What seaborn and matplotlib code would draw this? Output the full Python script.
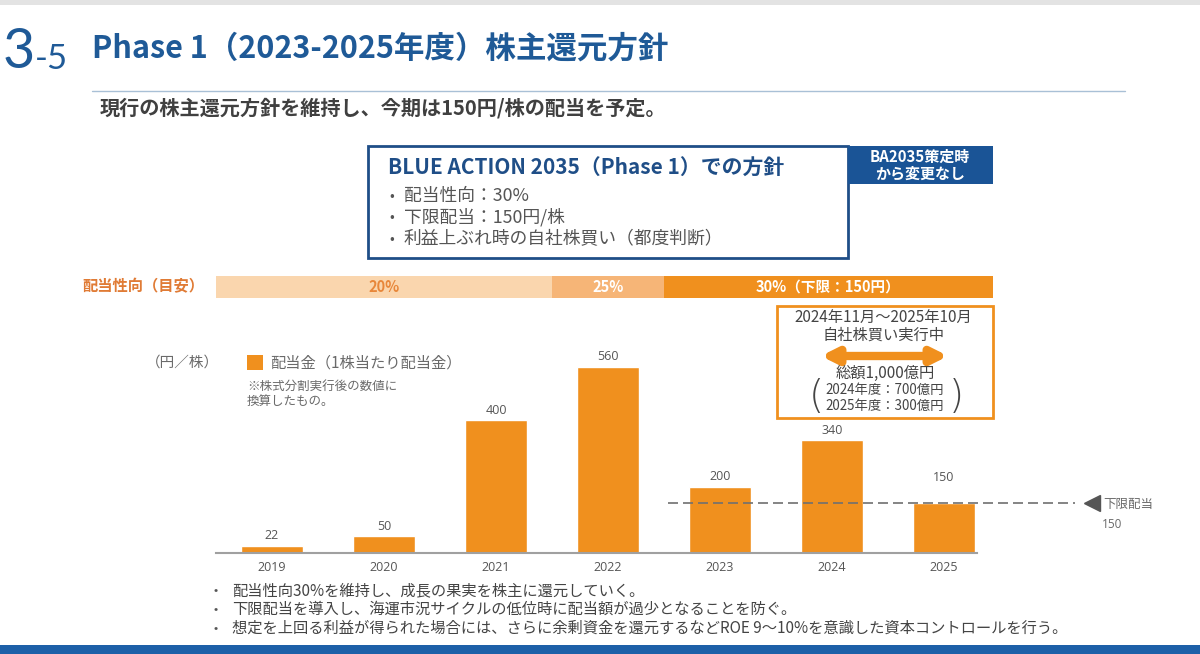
#!/usr/bin/env python3

import matplotlib
matplotlib.use("Agg")
import matplotlib.pyplot as plt
from matplotlib.patches import Rectangle, FancyArrowPatch
import seaborn as sns

# *** data ***
years = ["2019", "2020", "2021", "2022", "2023", "2024", "2025"]
dividends = [22, 50, 400, 560, 200, 340, 150]
floor_dividend = 150

payout_labels = ["20%", "25%", "30%（下限：150円）"]
payout_first = [0, 3, 4]   # first year index of each payout-ratio period
payout_last = [2, 3, 6]    # last year index of each period

policy_items = ["配当性向：30%", "下限配当：150円/株", "利益上ぶれ時の自社株買い（都度判断）"]
notes = [
    "配当性向30%を維持し、成長の果実を株主に還元していく。",
    "下限配当を導入し、海運市況サイクルの低位時に配当額が過少となることを防ぐ。",
    "想定を上回る利益が得られた場合には、さらに余剰資金を還元するなどROE 9～10%を意識した資本コントロールを行う。",
]

W, H = 1200, 654
ORANGE = "#f0901e"
BLUE = "#1f5a97"
GRAY = "#555555"
NUM_FONT = ["Open Sans", "DejaVu Sans"]

sns.set_theme(style="white")
plt.rcParams["font.family"] = ["Noto Sans CJK JP", "DejaVu Sans"]

fig = plt.figure(figsize=(W / 100, H / 100), dpi=100)


def T(x, y, s, **kw):
    '''text placed in pixel coordinates of the slide'''
    kw.setdefault("va", "center")
    return fig.text(x / W, 1 - y / H, s, **kw)


def box(x0, y0, x1, y1, **kw):
    r = Rectangle((x0 / W, 1 - y1 / H), (x1 - x0) / W, (y1 - y0) / H,
                  transform=fig.transFigure, **kw)
    fig.add_artist(r)


# frame bands
box(0, 0, W, 5, color="#e3e3e3", lw=0)
box(0, 645, W, H, color="#1d60a8", lw=0)

# title
T(3, 53, "3", fontsize=40, color=BLUE, family=["Lato", "DejaVu Sans"])
T(35, 59, "-5", fontsize=25, color=BLUE, family=["Lato", "DejaVu Sans"])
T(92, 49, "Phase 1（2023-2025年度）株主還元方針", fontsize=22,
  fontweight="bold", color=BLUE)
fig.add_artist(plt.Line2D([92 / W, 1125 / W], [1 - 91 / H] * 2,
                          transform=fig.transFigure, color="#a9c0d6", lw=1))
T(100, 108, "現行の株主還元方針を維持し、今期は150円/株の配当を予定。",
  fontsize=14.5, fontweight="bold", color="#404040")

# policy box
box(368, 146, 848, 258, fill=False, ec="#1f4e87", lw=2)
box(848, 146, 993, 184, color="#1a5496", lw=0)
T(920, 165, "BA2035策定時\nから変更なし", fontsize=10.8, fontweight="bold",
  color="white", ha="center", linespacing=1.1)
T(388, 168, "BLUE ACTION 2035（Phase 1）での方針", fontsize=15,
  fontweight="bold", color="#1f4e87")
for i, item in enumerate(policy_items):
    T(389, 196 + i * 21.5, "•", fontsize=10, color=GRAY)
    T(404, 196 + i * 21.5, item, fontsize=12.8, color=GRAY)

# payout ratio strip
T(82, 286, "配当性向（目安）", fontsize=11, fontweight="bold", color="#e07b35")
xl = (-0.5, (993 - 272) / 112)
ax2 = fig.add_axes([216 / W, 1 - 298 / H, 777 / W, 22 / H])
strip_colors = ["#fad6ae", "#f6b577", ORANGE]
text_colors = ["#e8873a", "white", "white"]
for lab, a, b, c, tc in zip(payout_labels, payout_first, payout_last,
                            strip_colors, text_colors):
    left, right = a - 0.5, min(b + 0.5, xl[1])
    ax2.barh(0, right - left, left=left, height=1, color=c, lw=0)
    ax2.text((left + right) / 2, 0, lab, ha="center", va="center",
             fontsize=10.5, fontweight="bold", color=tc)
ax2.set_xlim(xl)
ax2.set_ylim(-0.5, 0.5)
ax2.axis("off")

# dividend bars
ax = fig.add_axes([216 / W, 1 - 553 / H, 777 / W, 200 / H])
sns.barplot(x=years, y=dividends, color=ORANGE, saturation=1, width=0.55,
            ax=ax, zorder=2)
ax.set_xlim(xl)
ax.set_ylim(0, 200 / (186 / 560))
for i, v in enumerate(dividends):
    pad = 10 if years[i] != "2025" else 26
    ax.annotate(str(v), (i, v), xytext=(0, pad), textcoords="offset pixels",
                ha="center", va="center", fontsize=9, color=GRAY,
                family=NUM_FONT)
sns.despine(ax=ax, left=True, top=True, right=True)
ax.spines["bottom"].set_bounds(xl[0], (977 - 272) / 112)
ax.spines["bottom"].set_color("#a0a0a0")
ax.spines["bottom"].set_linewidth(1.5)
ax.set_yticks([])
ax.set_xlabel("")
ax.set_ylabel("")
ax.tick_params(axis="x", length=0, pad=6, labelsize=9, labelcolor=GRAY)
for t in ax.get_xticklabels():
    t.set_fontfamily(NUM_FONT)

# floor dividend line
ax.plot([3.54, 7.17], [floor_dividend] * 2, ls=(0, (6, 3)), color="#707070",
        lw=1.2, clip_on=False, zorder=3)
ax.plot([7.32], [floor_dividend], marker="<", ms=11, color="#555555",
        clip_on=False)
T(1103, 504, "下限配当", fontsize=9, color="#6a6a6a")
T(1102, 524, "150", fontsize=8.5, color="#6a6a6a", family=NUM_FONT)

# legend and units
T(146, 363, "（円／株）", fontsize=10.5, color="#6a6a6a")
box(247, 355, 263, 370, color=ORANGE, lw=0)
T(270, 363, "配当金（1株当たり配当金）", fontsize=11, color="#6a6a6a")
T(247, 394, "※株式分割実行後の数値に\n換算したもの。", fontsize=9,
  color="#6a6a6a", linespacing=1.25)

# buyback box
box(777, 306, 993, 418, fill=False, ec=ORANGE, lw=2)
T(883, 317, "2024年11月～2025年10月", fontsize=11, color="#444444", ha="center")
T(884, 335, "自社株買い実行中", fontsize=11, color="#444444", ha="center")
fig.add_artist(FancyArrowPatch((818 / W, 1 - 356 / H), (951 / W, 1 - 356 / H),
                               transform=fig.transFigure, arrowstyle="<|-|>",
                               mutation_scale=22, lw=6, color=ORANGE))
T(885, 373, "総額1,000億円", fontsize=11, color="#444444", ha="center")
T(885, 390, "2024年度：700億円", fontsize=9.6, color="#444444", ha="center")
T(885, 406, "2025年度：300億円", fontsize=9.6, color="#444444", ha="center")
T(816, 397, "(", fontsize=28, color="#444444", ha="center",
  family=["DejaVu Sans"], fontweight="light")
T(956, 397, ")", fontsize=28, color="#444444", ha="center",
  family=["DejaVu Sans"], fontweight="light")

# bottom notes
for i, n in enumerate(notes):
    T(213, 591 + i * 18.5, "•", fontsize=9, color=GRAY)
    T(232, 591 + i * 18.5, n, fontsize=11, color="#444444")

fig.savefig("out.png", dpi=100)
